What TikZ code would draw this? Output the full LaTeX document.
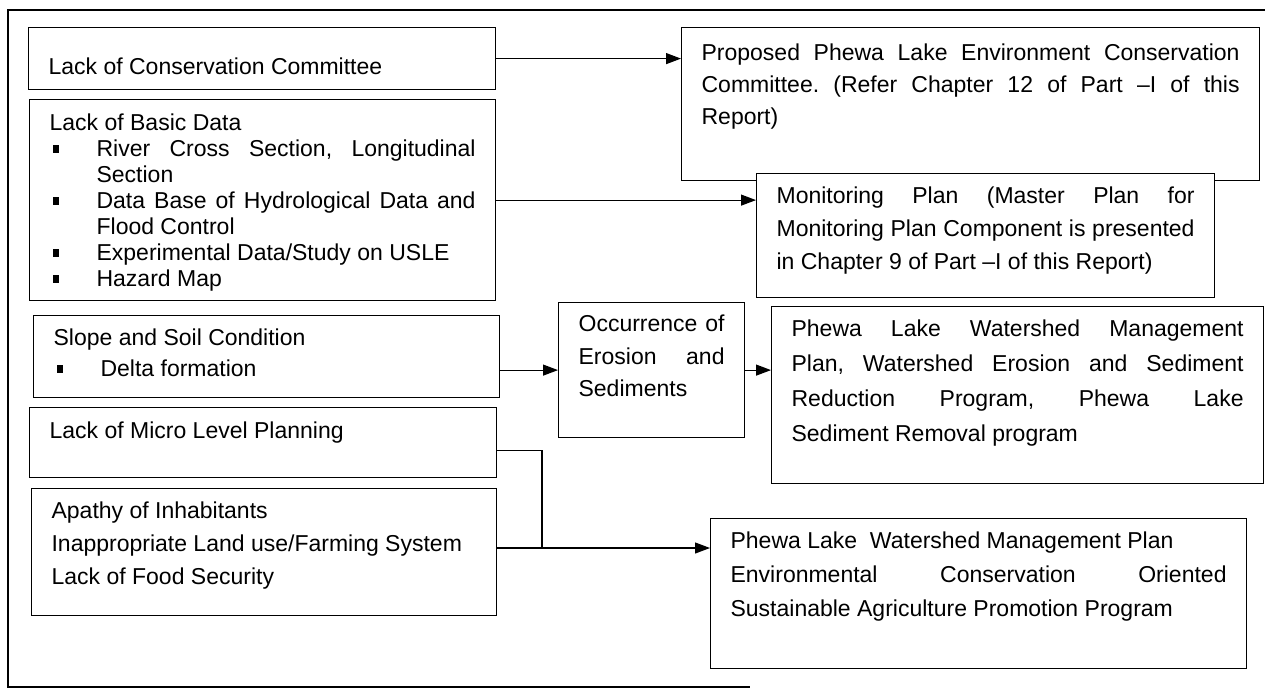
\documentclass[tikz,border=0pt]{standalone}
\usepackage{fontspec}
\setmainfont{Liberation Sans}
\usetikzlibrary{arrows.meta}
\frenchspacing

\newcommand{\sqitem}{\par\noindent\hangindent=47pt\hangafter=1\makebox[47pt][l]{\hspace{3pt}\rule[4pt]{6pt}{8pt}}\ignorespaces}

\begin{document}
\begin{tikzpicture}[x=1pt,y=-1pt]
			\useasboundingbox (0,0) rectangle (1265,690);
			\draw [line width=1.5pt] (1265,10) -- (8,10) -- (8,687) -- (750,687);
			
			\begin{scope}[every node/.style={draw,line width=1.2pt,fill=white,anchor=north west,inner xsep=20pt,inner ysep=0pt,align=justify,text height=30pt,font=\fontsize{23}{33}\selectfont}]
				\node [text width=427pt,text height=47pt,text depth=15pt] (cc) at (28,27) {Lack of Conservation Committee};
				\node [text width=426pt,text height=31pt,text depth=170pt,font=\fontsize{23}{26}\selectfont] (bd) at (29,99) {Lack of Basic Data
					\sqitem River Cross Section, Longitudinal\linebreak Section
					\sqitem Data Base of Hydrological Data and\linebreak Flood Control
					\sqitem Experimental Data/Study on USLE
					\sqitem Hazard Map};
				\node [text width=426pt,text depth=52pt,font=\fontsize{23}{31}\selectfont] (ss) at (33,315) {Slope and Soil Condition
					\sqitem Delta formation};
				\node [text width=427pt,text height=31pt,text depth=39pt] (mp) at (29,407) {Lack of Micro Level Planning};
				\node [text width=425pt,text depth=97pt] (ap) at (31,488) {Apathy of Inhabitants\par Inappropriate Land use/Farming System\par Lack of Food Security};
				\node [text width=146pt,text height=29pt,text depth=106pt,font=\fontsize{23}{32.5}\selectfont] (oe) at (558,302) {Occurrence of\linebreak Erosion and\linebreak Sediments};
				\node [text width=538pt,text height=33pt,text depth=120pt,font=\fontsize{23}{32}\selectfont] (pc) at (681,27) {Proposed Phewa Lake Environment Conservation\linebreak Committee. (Refer Chapter 12 of Part --I of this\linebreak Report)};
				\node [text width=418pt,text depth=94pt] (mo) at (756,173) {Monitoring Plan (Master Plan for\linebreak Monitoring Plan Component is presented\linebreak in Chapter 9 of Part --I of this Report)};
				\node [text width=452pt,text depth=147pt,font=\fontsize{23}{35}\selectfont] (wm) at (771,306) {Phewa Lake Watershed Management\linebreak Plan, Watershed Erosion and Sediment\linebreak Reduction Program, Phewa Lake\linebreak Sediment Removal program};
				\node [text width=496pt,text depth=120pt,font=\fontsize{23}{34}\selectfont] (ag) at (710,518) {Phewa Lake\ \ Watershed Management Plan\par Environmental Conservation Oriented\linebreak Sustainable Agriculture Promotion Program};
			\end{scope}
			
			\coordinate (jn) at (542,548);
			
			\begin{scope}[every edge/.style={draw=black,line width=1.2pt},>={Triangle[length=15pt,width=11pt]}]
				\path [->] (cc.east) edge (cc.east -| pc.west);
				\path [->] (bd.east) edge (bd.east -| mo.west);
				\path [->] (ss.east |- oe.west) edge (oe.west);
				\path [->] (oe.east) edge (oe.east -| wm.west);
				\draw [line width=1.2pt] ([yshift=-8pt]mp.east) -| (jn);
				\path [->] (ap.east |- jn) edge (jn -| ag.west);
			\end{scope}
		\end{tikzpicture}
\end{document}
